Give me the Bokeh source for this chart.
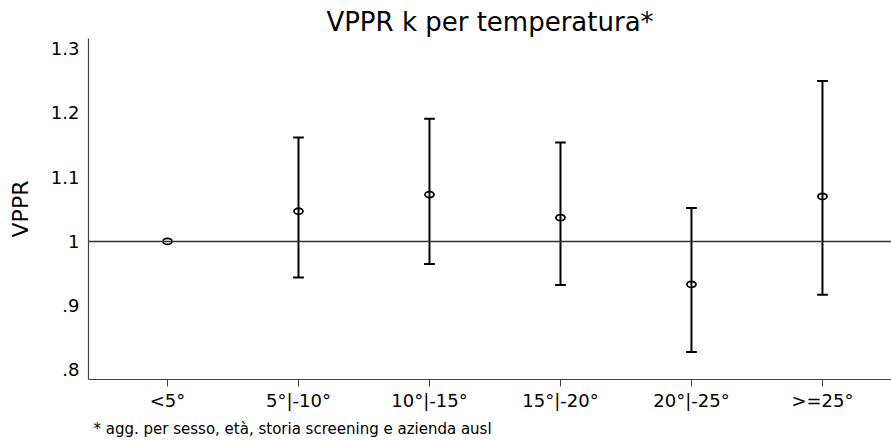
from bokeh.plotting import figure
from bokeh.models import FixedTicker, Span, Title, Range1d
from bokeh.embed import file_html
from bokeh.resources import INLINE

categories = ["<5°", "5°|-10°", "10°|-15°", "15°|-20°", "20°|-25°", ">=25°"]
estimate = [1.0, 1.047, 1.073, 1.037, 0.933, 1.070]
lower = [1.0, 0.944, 0.965, 0.932, 0.828, 0.917]
upper = [1.0, 1.162, 1.191, 1.154, 1.052, 1.250]
y_ticks = [0.8, 0.9, 1.0, 1.1, 1.2, 1.3]
y_tick_labels = [".8", ".9", "1", "1.1", "1.2", "1.3"]
footnote = "* agg. per sesso, età, storia screening e azienda ausl"

FONT = "DejaVu Sans"
xs = list(range(len(categories)))

p = figure(width=891, height=442, output_backend="svg", toolbar_location=None,
           x_range=Range1d(-0.603, 5.527), y_range=Range1d(0.785, 1.316),
           min_border_left=88, min_border_right=0, min_border_top=38, min_border_bottom=63)
p.outline_line_color = None
p.xgrid.visible = False
p.ygrid.visible = False
p.background_fill_color = "white"
p.border_fill_color = "white"

p.title.text = "VPPR k per temperatura*"
p.title.align = "center"
p.title.text_font = FONT
p.title.text_font_size = "26px"
p.title.text_font_style = "normal"
p.title.text_color = "black"
p.title.standoff = 3

p.add_layout(Span(location=1.0, dimension="width", line_color="#333333", line_width=1.5))

ci_idx = [i for i in xs if upper[i] != lower[i]]
p.segment(x0=[xs[i] for i in ci_idx], y0=[lower[i] for i in ci_idx],
          x1=[xs[i] for i in ci_idx], y1=[upper[i] for i in ci_idx],
          line_color="black", line_width=2)
cap = 0.041
for arr in (lower, upper):
    p.segment(x0=[xs[i] - cap for i in ci_idx], y0=[arr[i] for i in ci_idx],
              x1=[xs[i] + cap for i in ci_idx], y1=[arr[i] for i in ci_idx],
              line_color="black", line_width=2)

p.ellipse(x=xs, y=estimate, width=9, height=6, width_units="screen", height_units="screen",
          fill_color=None, line_color="black", line_width=1.8)

p.xaxis.ticker = FixedTicker(ticks=xs)
p.xaxis.major_label_overrides = {i: c for i, c in zip(xs, categories)}
p.xaxis.major_tick_out = 7
p.xaxis.major_tick_in = 0
p.xaxis.minor_tick_line_color = None
p.xaxis.major_label_standoff = 3

p.yaxis.ticker = FixedTicker(ticks=y_ticks)
p.yaxis.major_label_overrides = {t: l for t, l in zip(y_ticks, y_tick_labels)}
p.yaxis.major_tick_line_color = None
p.yaxis.minor_tick_line_color = None
p.yaxis.major_label_standoff = 3
p.yaxis.axis_label = "VPPR"
p.yaxis.axis_label_text_font_style = "normal"
p.yaxis.axis_label_text_font = FONT
p.yaxis.axis_label_text_font_size = "22px"
p.yaxis.axis_label_text_color = "black"
p.yaxis.axis_label_standoff = 15

for ax in (p.xaxis, p.yaxis):
    ax.axis_line_color = "#444444"
    ax.axis_line_width = 1.2
    ax.major_label_text_font = FONT
    ax.major_label_text_font_size = "18px"
    ax.major_label_text_color = "black"
p.xaxis.major_tick_line_color = "#444444"

p.add_layout(Title(text=footnote, align="left", text_font=FONT, text_font_size="15px",
                   text_font_style="normal", text_color="black", offset=5, standoff=9), "below")

open("out.html", "w").write(file_html(p, INLINE))
